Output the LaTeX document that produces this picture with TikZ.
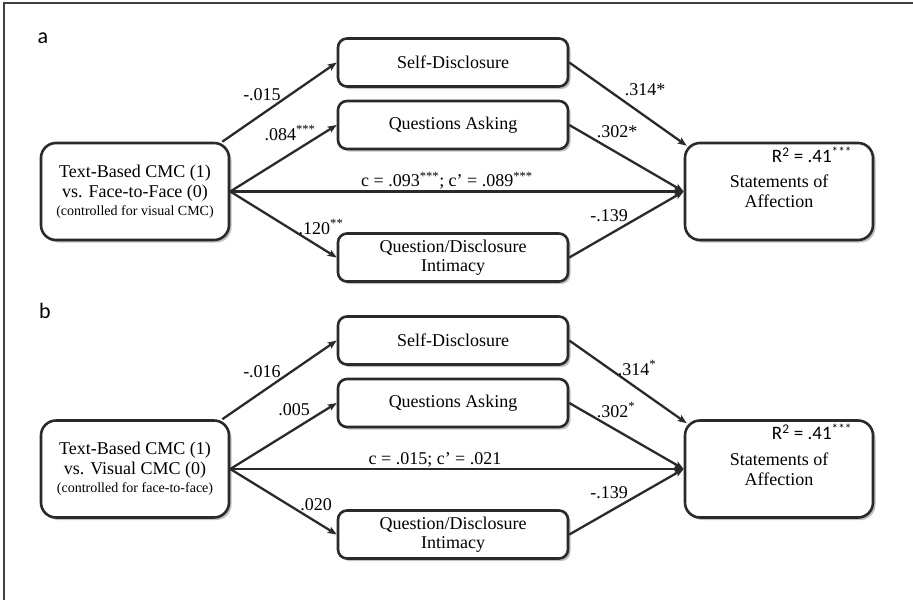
\documentclass[tikz,border=0pt]{standalone}
\usepackage{fontspec}
\setmainfont{Liberation Serif}
\newfontfamily\sansf{Carlito}
\usetikzlibrary{arrows.meta,shadows}
\definecolor{boxline}{HTML}{2A2A2A}
\tikzset{
  box/.style={draw=boxline, line width=2.6pt, rounded corners=9pt, fill=white, align=center,
    font=\fontsize{18}{21}\selectfont, inner sep=2pt,
    drop shadow={shadow xshift=2.5pt, shadow yshift=-2.5pt, fill=black!40, opacity=0.6}},
  bigbox/.style={box, rounded corners=15pt, minimum width=188pt, minimum height=97pt},
  medbox/.style={box, minimum width=230pt, minimum height=48pt},
  conn/.style={draw=boxline, line width=2.3pt, -{Stealth[length=9pt,width=7pt,inset=2pt]}},
  lab/.style={font=\fontsize{18}{20}\selectfont, inner sep=0pt},
  rsq/.style={font=\sansf\fontsize{19}{20}\selectfont, inner sep=0pt},
  panel/.style={font=\sansf\fontsize{22}{22}\selectfont, inner sep=0pt}
}
\newcommand{\sst}[1]{\textsuperscript{#1}}
\begin{document}
\begin{tikzpicture}[x=1pt,y=-1pt]
\useasboundingbox (0,0) rectangle (913,600);
\draw[black!75, line width=1.5pt] (4,600) -- (4,3) -- (913,3);

% ---------- panel a ----------
\node[panel] (pa) at (43,38) {a};
\node[bigbox] (xa) at (135,191.5) {Text-Based CMC (1)\\[-1pt] vs. Face-to-Face (0)\\[-3pt] {\fontsize{14}{17}\selectfont (controlled for visual CMC)}};
\node[medbox] (sda) at (453,62.5) {Self-Disclosure};
\node[medbox] (qaa) at (453,125) {Questions Asking};
\node[medbox] (qda) at (453,257.5) {Question/Disclosure\\[-2pt] Intimacy};
\node[bigbox] (ya) at (779,191.5) {Statements of\\[-1pt] Affection};
\node[rsq] (ra) at (812,155) {R\textsuperscript{2} = .41\textsuperscript{***}};

\draw[conn] ([xshift=-8pt]xa.north east) -- (sda.west);
\draw[conn] (xa.east) -- (qaa.west);
\draw[conn] (xa.east) -- (ya.west);
\draw[conn] (xa.east) -- (qda.west);
\draw[conn] (sda.east) -- ([xshift=3pt,yshift=-4pt]ya.north west);
\draw[conn] (qaa.east) -- (ya.west);
\draw[conn] (qda.east) -- (ya.west);

\node[lab] (la1) at (262,95) {-.015};
\node[lab] (la2) at (290,133) {.084\sst{***}};
\node[lab] (la3) at (447,181) {c = .093\sst{***}; c’ = .089\sst{***}};
\node[lab] (la4) at (321,227) {.120\sst{**}};
\node[lab] (la5) at (645,90) {.314*};
\node[lab] (la6) at (617,132) {.302*};
\node[lab] (la7) at (609,216) {-.139};

% ---------- panel b ----------
\node[panel] (pb) at (45,311) {b};
\node[bigbox] (xb) at (135,469) {Text-Based CMC (1)\\[-1pt] vs. Visual CMC (0)\\[-3pt] {\fontsize{14}{17}\selectfont (controlled for face-to-face)}};
\node[medbox] (sdb) at (453,340.5) {Self-Disclosure};
\node[medbox] (qab) at (453,403) {Questions Asking};
\node[medbox] (qdb) at (453,534.5) {Question/Disclosure\\[-2pt] Intimacy};
\node[bigbox] (yb) at (779,469) {Statements of\\[-1pt] Affection};
\node[rsq] (rb) at (812,432) {R\textsuperscript{2} = .41\textsuperscript{***}};

\draw[conn] ([xshift=-8pt]xb.north east) -- (sdb.west);
\draw[conn] (xb.east) -- (qab.west);
\draw[conn] (xb.east) -- (yb.west);
\draw[conn] (xb.east) -- (qdb.west);
\draw[conn] (sdb.east) -- ([xshift=3pt,yshift=-4pt]yb.north west);
\draw[conn] (qab.east) -- (yb.west);
\draw[conn] (qdb.east) -- (yb.west);

\node[lab] (lb1) at (262,372) {-.016};
\node[lab] (lb2) at (294,410) {.005};
\node[lab] (lb3) at (435,460) {c = .015; c’ = .021};
\node[lab] (lb4) at (316,505) {.020};
\node[lab] (lb5) at (637,368) {.314\sst{*}};
\node[lab] (lb6) at (616,410) {.302\sst{*}};
\node[lab] (lb7) at (609,493) {-.139};
\end{tikzpicture}
\end{document}
